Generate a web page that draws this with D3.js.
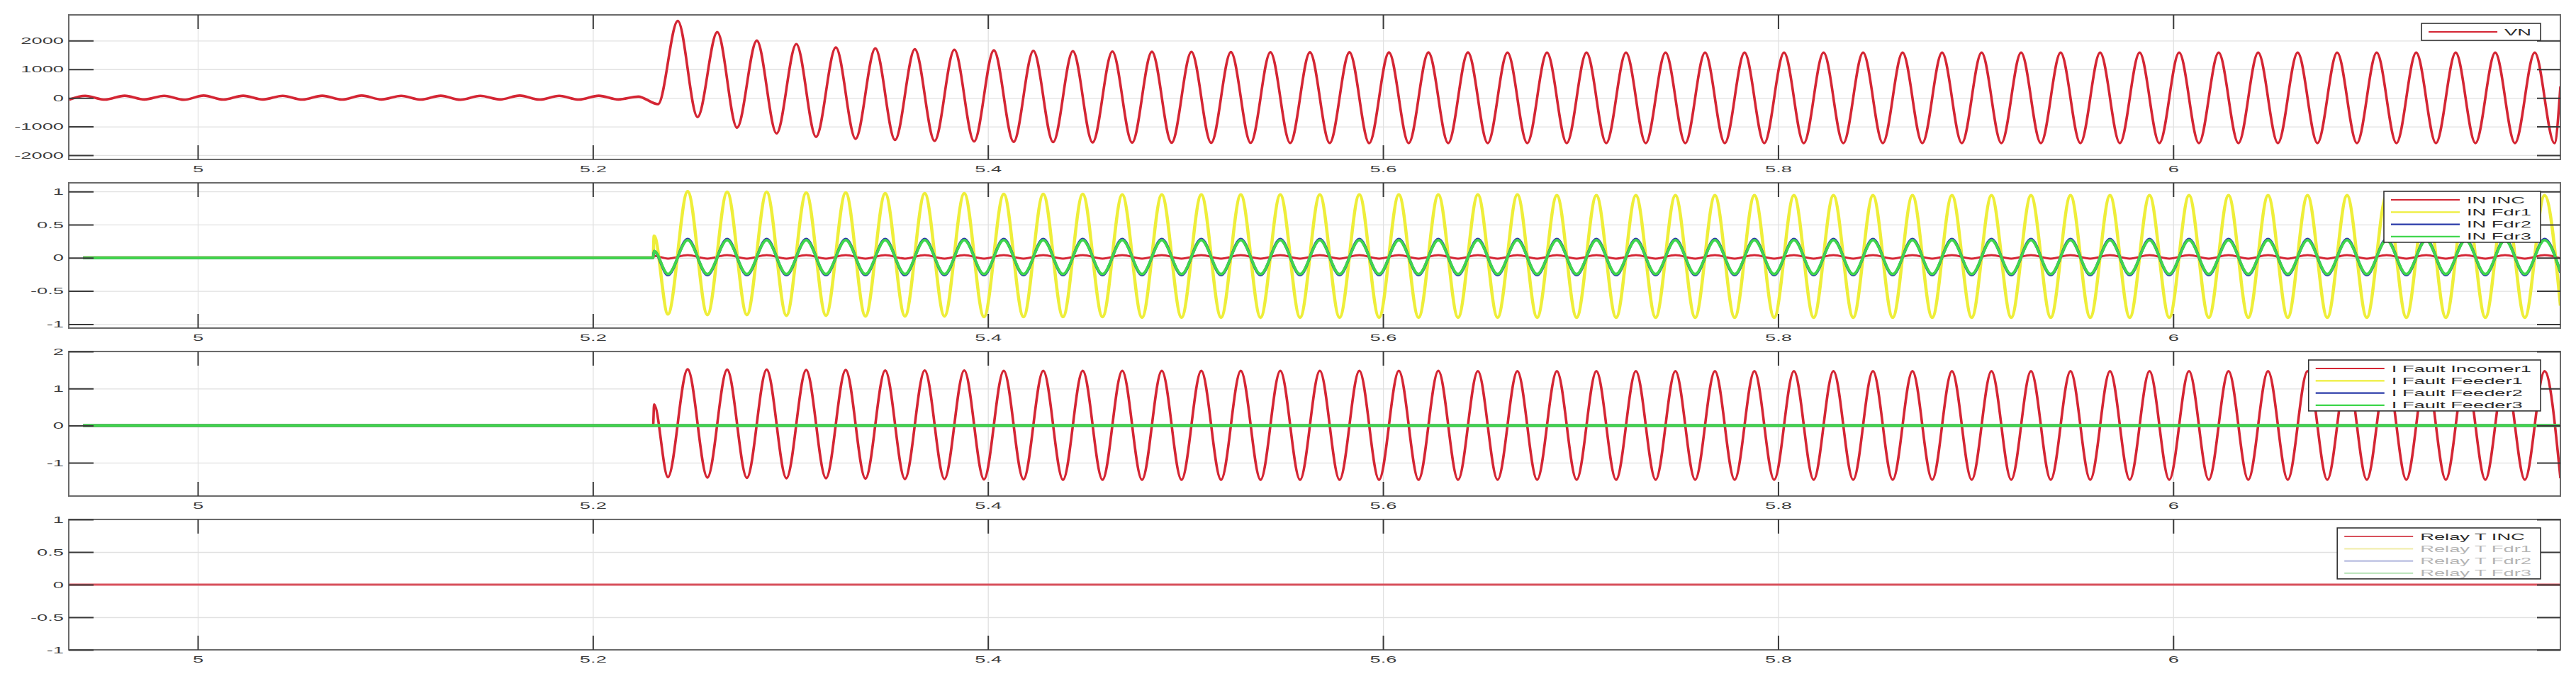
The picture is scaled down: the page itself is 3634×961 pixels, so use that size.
<!DOCTYPE html>
<html>
<head>
<meta charset="utf-8">
<script src="https://cdn.jsdelivr.net/npm/d3@7"></script>
<style>
  body { margin: 0; background: #fff; }
  svg { display: block; font-family: "Liberation Sans", Arial, sans-serif; }
</style>
</head>
<body>
<svg id="chart" width="3634" height="961"></svg>
<script>
// Four stacked scope traces: VN, IN currents, fault currents, relay trip signals

// shared x axis (time, s)
const xDomain = [4.9347, 6.196];
const xTicks = [5, 5.2, 5.4, 5.6, 5.8, 6];
const xTickLabels = ["5", "5.2", "5.4", "5.6", "5.8", "6"];

// ---- panel 1 : VN (extrema) ----
const vnTimes = [4.935,
  4.943, 4.953, 4.963, 4.973, 4.983, 4.993, 5.003, 5.013, 5.023, 5.033,
  5.043, 5.053, 5.063, 5.073, 5.083, 5.093, 5.103, 5.113, 5.123, 5.133,
  5.143, 5.153, 5.163, 5.173, 5.183, 5.193, 5.203, 5.213, 5.223, 5.233,
  5.243, 5.253, 5.263, 5.273, 5.283, 5.293, 5.303, 5.313, 5.323, 5.333,
  5.343, 5.353, 5.363, 5.373, 5.383, 5.393, 5.403, 5.413, 5.423, 5.433,
  5.443, 5.453, 5.463, 5.473, 5.483, 5.493, 5.503, 5.513, 5.523, 5.533,
  5.543, 5.553, 5.563, 5.573, 5.583, 5.593, 5.603, 5.613, 5.623, 5.633,
  5.643, 5.653, 5.663, 5.673, 5.683, 5.693, 5.703, 5.713, 5.723, 5.733,
  5.743, 5.753, 5.763, 5.773, 5.783, 5.793, 5.803, 5.813, 5.823, 5.833,
  5.843, 5.853, 5.863, 5.873, 5.883, 5.893, 5.903, 5.913, 5.923, 5.933,
  5.943, 5.953, 5.963, 5.973, 5.983, 5.993, 6.003, 6.013, 6.023, 6.033,
  6.043, 6.053, 6.063, 6.073, 6.083, 6.093, 6.103, 6.113, 6.123, 6.133,
  6.143, 6.153, 6.163, 6.173, 6.183, 6.193,
  6.196];
const vnValues = [-60,
  70, -60, 75, -55, 70, -65, 80, -60, 75, -55,
  70, -60, 75, -60, 80, -55, 70, -60, 75, -65,
  70, -55, 80, -60, 70, -60, 75, -55, 45, -220,
  2690, -670, 2300, -1040, 2000, -1240, 1880, -1360, 1760, -1430,
  1730, -1470, 1700, -1500, 1680, -1520, 1660, -1535, 1645, -1545,
  1630, -1555, 1620, -1560, 1610, -1565, 1605, -1570, 1600, -1570,
  1595, -1575, 1590, -1575, 1590, -1580, 1585, -1580, 1585, -1580,
  1585, -1580, 1580, -1580, 1580, -1580, 1580, -1580, 1580, -1580,
  1580, -1580, 1580, -1580, 1580, -1580, 1580, -1580, 1580, -1580,
  1580, -1580, 1580, -1580, 1580, -1580, 1580, -1580, 1580, -1580,
  1580, -1580, 1580, -1580, 1580, -1580, 1580, -1580, 1580, -1580,
  1580, -1580, 1580, -1580, 1580, -1580, 1580, -1580, 1580, -1580,
  1580, -1580, 1580, -1580, 1580, -1580,
  400];
const vnDomain = [-2150, 2900];
const vnTicks = [-2000, -1000, 0, 1000, 2000];
const vnTickLabels = ["-2000", "-1000", "0", "1000", "2000"];
const vnNames = ["VN"];

// ---- panel 2 : IN currents (shared extrema times) ----
const curTimes = [4.942, 5.2305, 5.231,
  5.238, 5.248, 5.258, 5.268, 5.278, 5.288, 5.298, 5.308, 5.318, 5.328,
  5.338, 5.348, 5.358, 5.368, 5.378, 5.388, 5.398, 5.408, 5.418, 5.428,
  5.438, 5.448, 5.458, 5.468, 5.478, 5.488, 5.498, 5.508, 5.518, 5.528,
  5.538, 5.548, 5.558, 5.568, 5.578, 5.588, 5.598, 5.608, 5.618, 5.628,
  5.638, 5.648, 5.658, 5.668, 5.678, 5.688, 5.698, 5.708, 5.718, 5.728,
  5.738, 5.748, 5.758, 5.768, 5.778, 5.788, 5.798, 5.808, 5.818, 5.828,
  5.838, 5.848, 5.858, 5.868, 5.878, 5.888, 5.898, 5.908, 5.918, 5.928,
  5.938, 5.948, 5.958, 5.968, 5.978, 5.988, 5.998, 6.008, 6.018, 6.028,
  6.038, 6.048, 6.058, 6.068, 6.078, 6.088, 6.098, 6.108, 6.118, 6.128,
  6.138, 6.148, 6.158, 6.168, 6.178, 6.188,
  6.196];
const inIncValues = [0, 0, 0.03,
  -0.012, 0.04, -0.012, 0.04, -0.012, 0.04, -0.012, 0.04, -0.012, 0.04,
  -0.012, 0.04, -0.012, 0.04, -0.012, 0.04, -0.012, 0.04, -0.012, 0.04,
  -0.012, 0.04, -0.012, 0.04, -0.012, 0.04, -0.012, 0.04, -0.012, 0.04,
  -0.012, 0.04, -0.012, 0.04, -0.012, 0.04, -0.012, 0.04, -0.012, 0.04,
  -0.012, 0.04, -0.012, 0.04, -0.012, 0.04, -0.012, 0.04, -0.012, 0.04,
  -0.012, 0.04, -0.012, 0.04, -0.012, 0.04, -0.012, 0.04, -0.012, 0.04,
  -0.012, 0.04, -0.012, 0.04, -0.012, 0.04, -0.012, 0.04, -0.012, 0.04,
  -0.012, 0.04, -0.012, 0.04, -0.012, 0.04, -0.012, 0.04, -0.012, 0.04,
  -0.012, 0.04, -0.012, 0.04, -0.012, 0.04, -0.012, 0.04, -0.012, 0.04,
  -0.012, 0.04, -0.012, 0.04, -0.012, 0.04,
  -0.008];
const inFdr1Values = [0, 0, 0.33,
  -0.85, 1.00, -0.86, 0.99, -0.86, 0.99, -0.87, 0.98, -0.87, 0.98,
  -0.88, 0.97, -0.88, 0.97, -0.88, 0.97, -0.89, 0.96, -0.89, 0.96,
  -0.89, 0.96, -0.89, 0.95, -0.90, 0.95, -0.90, 0.95, -0.90, 0.95,
  -0.90, 0.95, -0.90, 0.95, -0.90, 0.95, -0.90, 0.95, -0.90, 0.95,
  -0.90, 0.95, -0.90, 0.95, -0.90, 0.94, -0.90, 0.94, -0.90, 0.94,
  -0.90, 0.94, -0.90, 0.94, -0.90, 0.94, -0.90, 0.94, -0.90, 0.94,
  -0.90, 0.94, -0.90, 0.94, -0.90, 0.94, -0.90, 0.94, -0.90, 0.94,
  -0.90, 0.94, -0.90, 0.94, -0.90, 0.94, -0.90, 0.94, -0.90, 0.94,
  -0.90, 0.94, -0.90, 0.94, -0.90, 0.94, -0.90, 0.94, -0.90, 0.94,
  -0.90, 0.94, -0.90, 0.94, -0.90, 0.94,
  -0.72];
const inFdr2Values = [0, 0, 0.1,
  -0.26, 0.28, -0.26, 0.28, -0.26, 0.28, -0.26, 0.28, -0.26, 0.28,
  -0.26, 0.28, -0.26, 0.28, -0.26, 0.28, -0.26, 0.28, -0.26, 0.28,
  -0.26, 0.28, -0.26, 0.28, -0.26, 0.28, -0.26, 0.28, -0.26, 0.28,
  -0.26, 0.28, -0.26, 0.28, -0.26, 0.28, -0.26, 0.28, -0.26, 0.28,
  -0.26, 0.28, -0.26, 0.28, -0.26, 0.28, -0.26, 0.28, -0.26, 0.28,
  -0.26, 0.28, -0.26, 0.28, -0.26, 0.28, -0.26, 0.28, -0.26, 0.28,
  -0.26, 0.28, -0.26, 0.28, -0.26, 0.28, -0.26, 0.28, -0.26, 0.28,
  -0.26, 0.28, -0.26, 0.28, -0.26, 0.28, -0.26, 0.28, -0.26, 0.28,
  -0.26, 0.28, -0.26, 0.28, -0.26, 0.28, -0.26, 0.28, -0.26, 0.28,
  -0.26, 0.28, -0.26, 0.28, -0.26, 0.28,
  -0.22];
const inFdr3Values = [0, 0, 0.1,
  -0.245, 0.265, -0.245, 0.265, -0.245, 0.265, -0.245, 0.265, -0.245, 0.265,
  -0.245, 0.265, -0.245, 0.265, -0.245, 0.265, -0.245, 0.265, -0.245, 0.265,
  -0.245, 0.265, -0.245, 0.265, -0.245, 0.265, -0.245, 0.265, -0.245, 0.265,
  -0.245, 0.265, -0.245, 0.265, -0.245, 0.265, -0.245, 0.265, -0.245, 0.265,
  -0.245, 0.265, -0.245, 0.265, -0.245, 0.265, -0.245, 0.265, -0.245, 0.265,
  -0.245, 0.265, -0.245, 0.265, -0.245, 0.265, -0.245, 0.265, -0.245, 0.265,
  -0.245, 0.265, -0.245, 0.265, -0.245, 0.265, -0.245, 0.265, -0.245, 0.265,
  -0.245, 0.265, -0.245, 0.265, -0.245, 0.265, -0.245, 0.265, -0.245, 0.265,
  -0.245, 0.265, -0.245, 0.265, -0.245, 0.265, -0.245, 0.265, -0.245, 0.265,
  -0.245, 0.265, -0.245, 0.265, -0.245, 0.265,
  -0.21];
const inDomain = [-1.06, 1.13];
const inTicks = [-1, -0.5, 0, 0.5, 1];
const inTickLabels = ["-1", "-0.5", "0", "0.5", "1"];
const inNames = ["IN INC", "IN Fdr1", "IN Fdr2", "IN Fdr3"];

// ---- panel 3 : fault currents ----
const faultIncValues = [0, 0, 0.57,
  -1.39, 1.52, -1.40, 1.51, -1.41, 1.51, -1.42, 1.50, -1.42, 1.50,
  -1.43, 1.49, -1.44, 1.49, -1.44, 1.49, -1.45, 1.48, -1.45, 1.48,
  -1.46, 1.48, -1.46, 1.48, -1.46, 1.48, -1.46, 1.48, -1.46, 1.48,
  -1.46, 1.48, -1.46, 1.48, -1.46, 1.48, -1.46, 1.48, -1.46, 1.48,
  -1.46, 1.47, -1.46, 1.47, -1.46, 1.47, -1.46, 1.47, -1.46, 1.47,
  -1.46, 1.47, -1.46, 1.47, -1.46, 1.47, -1.46, 1.47, -1.46, 1.47,
  -1.46, 1.47, -1.46, 1.47, -1.46, 1.47, -1.46, 1.47, -1.46, 1.47,
  -1.46, 1.47, -1.46, 1.47, -1.46, 1.47, -1.46, 1.47, -1.46, 1.47,
  -1.46, 1.47, -1.46, 1.47, -1.46, 1.47, -1.46, 1.47, -1.46, 1.47,
  -1.46, 1.47, -1.46, 1.47, -1.46, 1.47,
  -1.42];
const feederFlatTimes = [4.942, 6.196];
const feederFlatValues = [0, 0];
const faultDomain = [-1.9, 2];
const faultTicks = [-1, 0, 1, 2];
const faultTickLabels = ["-1", "0", "1", "2"];
const faultNames = ["I Fault Incomer1", "I Fault Feeder1", "I Fault Feeder2", "I Fault Feeder3"];

// ---- panel 4 : relay trip ----
const relayTimes = [4.935, 6.196];
const relayIncValues = [0, 0];
const relayDomain = [-1, 1];
const relayTicks = [-1, -0.5, 0, 0.5, 1];
const relayTickLabels = ["-1", "-0.5", "0", "0.5", "1"];
const relayNames = ["Relay T INC", "Relay T Fdr1", "Relay T Fdr2", "Relay T Fdr3"];

// colours (matlab r y b g, as they come out in the picture)
const RED = "#d42634", YELLOW = "#eeee3a", BLUE = "#2a3aa8", GREEN = "#3fd64c";

const panels = [
  { top: 21, bottom: 225, domain: vnDomain, ticks: vnTicks, labels: vnTickLabels,
    series: [{ t: vnTimes, v: vnValues, color: RED, w: 3.6 }],
    legend: vnNames.map(n => ({ name: n, color: RED, text: "#2a2a2a" })) },
  { top: 258, bottom: 463, domain: inDomain, ticks: inTicks, labels: inTickLabels,
    series: [
      { t: curTimes, v: inIncValues, color: RED, w: 3 },
      { t: curTimes, v: inFdr1Values, color: YELLOW, w: 4.5 },
      { t: curTimes, v: inFdr2Values, color: BLUE, w: 4 },
      { t: curTimes, v: inFdr3Values, color: GREEN, w: 3.8 }],
    legend: inNames.map((n, i) => ({ name: n, color: [RED, YELLOW, BLUE, GREEN][i], text: "#2a2a2a" })) },
  { top: 496, bottom: 700, domain: faultDomain, ticks: faultTicks, labels: faultTickLabels,
    series: [
      { t: curTimes, v: faultIncValues, color: RED, w: 3.6 },
      { t: feederFlatTimes, v: feederFlatValues, color: YELLOW, w: 4 },
      { t: feederFlatTimes, v: feederFlatValues, color: BLUE, w: 4 },
      { t: feederFlatTimes, v: feederFlatValues, color: GREEN, w: 4 }],
    legend: faultNames.map((n, i) => ({ name: n, color: [RED, YELLOW, BLUE, GREEN][i], text: "#2a2a2a" })) },
  { top: 733, bottom: 917, domain: relayDomain, ticks: relayTicks, labels: relayTickLabels,
    series: [{ t: relayTimes, v: relayIncValues, color: "#d8505c", w: 3 }],
    legend: relayNames.map((n, i) => ({ name: n,
      color: ["#d8505c", "#f2eeb0", "#b8bde0", "#c0e6c0"][i],
      text: i === 0 ? "#2a2a2a" : "#b4b4b4" })) }
];

const svg = d3.select("#chart");
const plotLeft = 97, plotRight = 3612;
const sx = 2.1;          // the figure is stretched sideways, text too
const fontSize = 13;
const fontFamily = "Liberation Sans, Arial, sans-serif";
const tickColor = "#3a3a3a";

const x = d3.scaleLinear().domain(xDomain).range([plotLeft, plotRight]);

function styleAxis(g) {
  g.attr("font-size", fontSize).attr("font-family", fontFamily);
  g.select(".domain").remove();
  g.selectAll("line").attr("stroke", tickColor).attr("stroke-width", 2);
  g.selectAll("text").attr("fill", "#3c3c3c");
}

panels.forEach((p, pi) => {
  const y = d3.scaleLinear().domain(p.domain).range([p.bottom, p.top]);
  const h = p.bottom - p.top;
  const g = svg.append("g").attr("class", "panel");

  svg.append("clipPath").attr("id", "clip" + pi)
    .append("rect")
    .attr("x", plotLeft).attr("y", p.top)
    .attr("width", plotRight - plotLeft).attr("height", h);

  // gridlines
  g.append("g")
    .attr("transform", "translate(0," + p.bottom + ")")
    .call(d3.axisBottom(x).tickValues(xTicks).tickSize(-h).tickFormat(""))
    .call(s => s.select(".domain").remove())
    .selectAll("line").attr("stroke", "#e1e1e1").attr("stroke-width", 1.3);
  g.append("g")
    .attr("transform", "translate(" + plotLeft + ",0)")
    .call(d3.axisLeft(y).tickValues(p.ticks).tickSize(-(plotRight - plotLeft)).tickFormat(""))
    .call(s => s.select(".domain").remove())
    .selectAll("line").attr("stroke", "#e1e1e1").attr("stroke-width", 1.3);

  // traces
  const line = d3.line()
    .x(d => x(d[0]))
    .y(d => y(d[1]))
    .curve(d3.curveMonotoneX);
  p.series.forEach(s => {
    g.append("path")
      .attr("d", line(d3.zip(s.t, s.v)))
      .attr("fill", "none")
      .attr("stroke", s.color)
      .attr("stroke-width", s.w)
      .attr("stroke-linejoin", "round")
      .attr("clip-path", "url(#clip" + pi + ")");
  });

  // box
  g.append("rect")
    .attr("x", plotLeft).attr("y", p.top)
    .attr("width", plotRight - plotLeft).attr("height", h)
    .attr("fill", "none").attr("stroke", "#6a6a6a").attr("stroke-width", 2);

  // y axis left with labels
  g.append("g")
    .attr("transform", "translate(" + plotLeft + ",0)")
    .call(d3.axisLeft(y).tickValues(p.ticks).tickFormat((d, i) => p.labels[i])
      .tickSizeInner(-35).tickSizeOuter(0).tickPadding(7))
    .call(styleAxis)
    .selectAll("text")
    .attr("x", -7 / sx)
    .attr("transform", "scale(" + sx + ",1)");

  // y axis right, ticks only
  g.append("g")
    .attr("transform", "translate(" + plotRight + ",0)")
    .call(d3.axisRight(y).tickValues(p.ticks).tickFormat("").tickSizeInner(-33).tickSizeOuter(0))
    .call(styleAxis);

  // x axis bottom with labels
  g.append("g")
    .attr("transform", "translate(0," + p.bottom + ")")
    .call(d3.axisBottom(x).tickValues(xTicks).tickFormat((d, i) => xTickLabels[i])
      .tickSizeInner(-20).tickSizeOuter(0).tickPadding(9))
    .call(styleAxis)
    .selectAll("text")
    .attr("transform", "scale(" + sx + ",1)");

  // x axis top, ticks only
  g.append("g")
    .attr("transform", "translate(0," + p.top + ")")
    .call(d3.axisTop(x).tickValues(xTicks).tickFormat("").tickSizeInner(-20).tickSizeOuter(0))
    .call(styleAxis);

  // legend, anchored top right
  const lg = g.append("g");
  const boxTop = p.top + 12;
  const rowGap = 17.3;
  const n = p.legend.length;
  const labels = lg.selectAll("text")
    .data(p.legend)
    .join("text")
    .attr("font-size", fontSize)
    .attr("font-family", fontFamily)
    .attr("fill", d => d.text)
    .attr("dy", "0.35em")
    .text(d => d.name);
  let maxW = 0;
  labels.each(function () { maxW = Math.max(maxW, this.getComputedTextLength()); });
  const boxRight = 3584;
  const boxW = 10 + 97 + 10 + maxW * sx + 13;
  const boxX = boxRight - boxW;
  const boxH = 12 + rowGap * (n - 1) + (n === 1 ? 12 : 8);

  lg.insert("rect", ":first-child")
    .attr("x", boxX).attr("y", boxTop)
    .attr("width", boxW).attr("height", boxH)
    .attr("fill", "#fff").attr("stroke", "#333").attr("stroke-width", 1.6);

  lg.selectAll("line.sample")
    .data(p.legend)
    .join("line")
    .attr("class", "sample")
    .attr("x1", boxX + 10).attr("x2", boxX + 107)
    .attr("y1", (d, i) => boxTop + 12 + rowGap * i)
    .attr("y2", (d, i) => boxTop + 12 + rowGap * i)
    .attr("stroke", d => d.color)
    .attr("stroke-width", 2.2);

  labels
    .attr("x", (boxX + 117) / sx)
    .attr("y", (d, i) => boxTop + 12 + rowGap * i)
    .attr("transform", "scale(" + sx + ",1)");
});
</script>
</body>
</html>
